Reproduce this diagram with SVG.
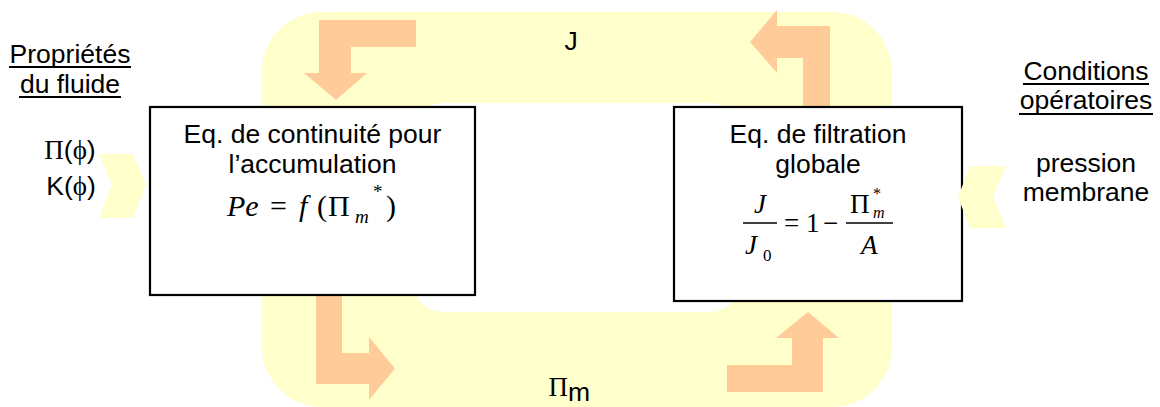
<svg xmlns="http://www.w3.org/2000/svg" width="1160" height="407" viewBox="0 0 1160 407">
<style>
.t{font-family:"Liberation Sans",Arial,sans-serif;font-size:26.5px;fill:#000}
.m{font-family:"Liberation Serif","Times New Roman",serif;fill:#000}
.i{font-style:italic}
.ul{stroke:#000;stroke-width:2}
.arr{fill:#FFCC99}
.chev{fill:#FFFFCC}
.box{fill:#fff;stroke:#000;stroke-width:2.2}
</style>
<rect width="1160" height="407" fill="#fff"/>
<g id="connectors">
<path id="loop" fill="#FFFFCC" fill-rule="evenodd" d="M322,12 H832 A60,60 0 0 1 892,72 V347 A60,60 0 0 1 832,407 H322 A60,60 0 0 1 262,347 V72 A60,60 0 0 1 322,12 Z M443,103 H710 A30,30 0 0 1 740,133 V282 A30,30 0 0 1 710,312 H443 A30,30 0 0 1 413,282 V133 A30,30 0 0 1 443,103 Z"/>
<polygon class="arr" points="416,20 319,20 319,73 304,73 336,100 367,73 351,73 351,47 416,47"/>
<polygon class="arr" points="830,107 830,26 777,26 777,10 750,42 777,73 777,58 803,58 803,107"/>
<polygon class="arr" points="316,290 316,384 369,384 369,400 395,368.5 369,337 369,353 342,353 342,290"/>
<polygon class="arr" points="727,365 727,392 823,392 823,338 839,338 808,312 776,338 792,338 792,365"/>
<text class="t" x="571" y="50" text-anchor="middle">J</text>
<text x="568" y="396" text-anchor="end" class="m" font-size="27">Π</text>
<text x="568" y="401" class="t" font-size="21">m</text>
</g>
<g id="box-accumulation">
<rect class="box" x="150" y="107" width="325" height="188"/>
<text class="t" x="312.5" y="143" text-anchor="middle">Eq. de continuité pour</text>
<text class="t" x="312.5" y="173" text-anchor="middle">l’accumulation</text>
<text class="m i" x="227" y="216" font-size="30">Pe</text>
<text class="m" x="270" y="216" font-size="30">=</text>
<text class="m i" x="299" y="216" font-size="30">f</text>
<text class="m" x="317" y="216" font-size="30">(</text>
<text class="m" x="328" y="216" font-size="30">Π</text>
<text class="m i" x="355" y="223" font-size="19">m</text>
<text class="m" x="373" y="198" font-size="19">*</text>
<text class="m" x="386" y="216" font-size="30">)</text>
</g>
<g id="box-filtration">
<rect class="box" x="674" y="107" width="288" height="194"/>
<text class="t" x="818" y="143" text-anchor="middle">Eq. de filtration</text>
<text class="t" x="818" y="173" text-anchor="middle">globale</text>
<text class="m i" x="760" y="213" font-size="27" text-anchor="middle">J</text>
<line x1="743" y1="223" x2="777" y2="223" stroke="#000" stroke-width="1.3"/>
<text class="m i" x="745" y="254" font-size="27">J</text>
<text class="m" x="763" y="261" font-size="17">0</text>
<text class="m" x="784" y="232" font-size="27">=</text>
<text class="m" x="806" y="232" font-size="27">1</text>
<text class="m" x="823" y="232" font-size="27">−</text>
<line x1="846" y1="223" x2="893" y2="223" stroke="#000" stroke-width="1.3"/>
<text class="m" x="850" y="213" font-size="27">Π</text>
<text class="m" x="873" y="199" font-size="16">*</text>
<text class="m i" x="873" y="218" font-size="16">m</text>
<text class="m i" x="861" y="254" font-size="27">A</text>
</g>
<g id="fluid-properties">
<text class="t" x="70" y="63" text-anchor="middle">Propriétés</text>
<line class="ul" x1="9" y1="67" x2="131" y2="67"/>
<text class="t" x="70" y="93" text-anchor="middle">du fluide</text>
<line class="ul" x1="19" y1="97" x2="121" y2="97"/>
<polygon class="chev" points="99,154 133,154 146,185 133,218 99,218 112,185"/>
<text x="70" y="159" text-anchor="middle"><tspan class="m" font-size="27">Π</tspan><tspan class="t">(</tspan><tspan class="m" font-size="27">ϕ</tspan><tspan class="t">)</tspan></text>
<text x="71" y="195" text-anchor="middle"><tspan class="t">K(</tspan><tspan class="m" font-size="27">ϕ</tspan><tspan class="t">)</tspan></text>
</g>
<g id="operating-conditions">
<text class="t" x="1086" y="80" text-anchor="middle">Conditions</text>
<line class="ul" x1="1023" y1="84" x2="1149" y2="84"/>
<text class="t" x="1086" y="109" text-anchor="middle">opératoires</text>
<line class="ul" x1="1019" y1="114" x2="1153" y2="114"/>
<polygon class="chev" points="970,166 1006,166 993,197 1006,228 970,228 958,197"/>
<text class="t" x="1086" y="172" text-anchor="middle" font-size="26">pression</text>
<text class="t" x="1086" y="201" text-anchor="middle" font-size="26">membrane</text>
</g>
</svg>
